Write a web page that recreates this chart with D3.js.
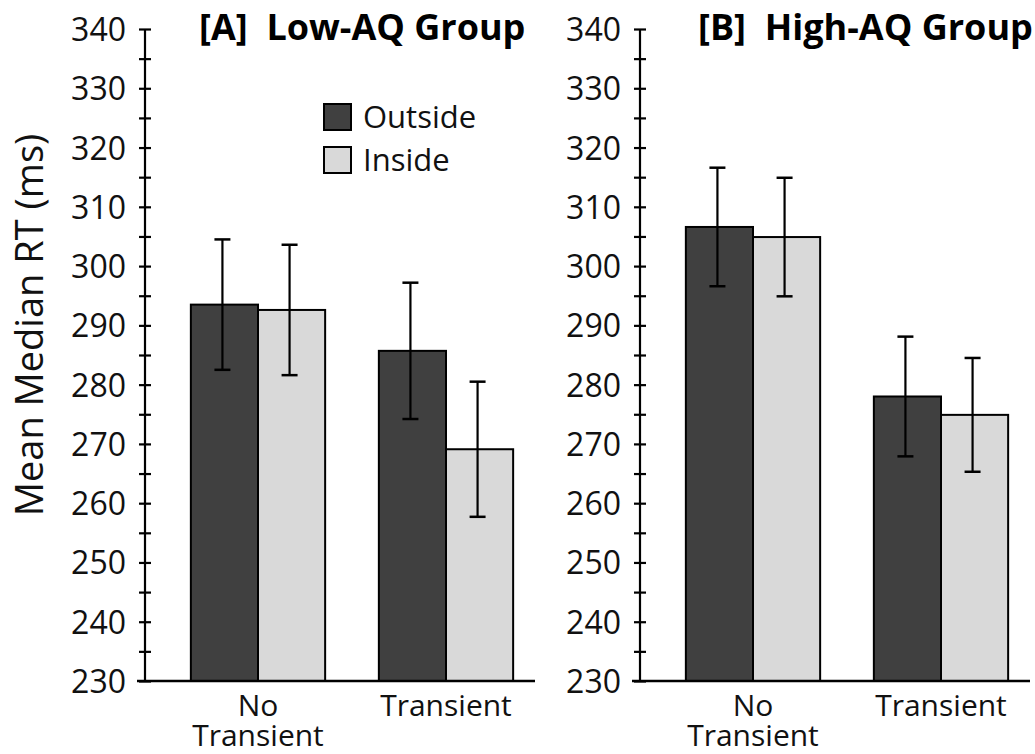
<!DOCTYPE html>
<html>
<head>
<meta charset="utf-8">
<script src="https://cdn.jsdelivr.net/npm/d3@7"></script>
<style>
  body { margin: 0; background: #fff; }
  svg { display: block; font-family: "Open Sans", "Noto Sans", sans-serif; }
</style>
</head>
<body>
<svg id="chart" width="1035" height="754"></svg>
<script>
// data
const conditions = ['No Transient', 'Transient'];
const series = ['Outside', 'Inside'];
const yTicks = d3.range(230, 341, 5);

const lowAQMeans = [293.5, 292.6, 285.7, 269.1];
const lowAQErr   = [11.0, 11.0, 11.5, 11.4];
const highAQMeans = [306.6, 304.9, 278.0, 274.9];
const highAQErr   = [10.0, 10.0, 10.1, 9.6];

const colors = { Outside: '#404040', Inside: '#d9d9d9' };

const svg = d3.select('#chart');

const y = d3.scaleLinear().domain([230, 340]).range([681, 29]);

function toRows(means, errs) {
  const rows = [];
  conditions.forEach((c, i) => {
    series.forEach((s, j) => {
      const k = i * series.length + j;
      rows.push({ cond: c, key: s, value: means[k], err: errs[k] });
    });
  });
  return rows;
}

function drawPanel(axisX, title, titleX, rows) {
  const g = svg.append('g');

  const x0 = d3.scaleBand().domain(conditions).range([axisX + 19, axisX + 395]);
  const x1 = d3.scaleBand().domain(series).range([0, x0.bandwidth()]).paddingOuter(0.4);

  // bars
  g.selectAll('rect.bar')
    .data(rows)
    .join('rect')
    .attr('class', 'bar')
    .attr('x', d => x0(d.cond) + x1(d.key))
    .attr('y', d => y(d.value))
    .attr('width', x1.bandwidth())
    .attr('height', d => y.range()[0] - y(d.value))
    .attr('fill', d => colors[d.key])
    .attr('stroke', '#000')
    .attr('stroke-width', 2);

  // error bars
  const eb = g.selectAll('g.err')
    .data(rows)
    .join('g')
    .attr('class', 'err')
    .attr('transform', d => `translate(${x0(d.cond) + x1(d.key) + x1.bandwidth() / 2 - 2},0)`);
  eb.append('line')
    .attr('y1', d => y(d.value + d.err))
    .attr('y2', d => y(d.value - d.err))
    .attr('stroke', '#000').attr('stroke-width', 2.2);
  eb.selectAll('line.cap')
    .data(d => [d.value + d.err, d.value - d.err])
    .join('line')
    .attr('class', 'cap')
    .attr('x1', -8).attr('x2', 8)
    .attr('y1', v => y(v)).attr('y2', v => y(v))
    .attr('stroke', '#000').attr('stroke-width', 2.5);

  // y axis
  const yAxis = d3.axisLeft(y)
    .tickValues(yTicks)
    .tickSize(6)
    .tickPadding(13)
    .tickFormat(d => d % 10 === 0 ? d : '');
  const ya = g.append('g')
    .attr('transform', `translate(${axisX},0)`)
    .call(yAxis);
  ya.select('.domain').attr('stroke', '#000').attr('stroke-width', 2.2).attr('d', `M0,${y.range()[0]}V${y.range()[1]}`);
  ya.selectAll('.tick line').attr('x1', -6).attr('x2', 6).attr('stroke', '#000').attr('stroke-width', 2.2);
  ya.selectAll('.tick text')
    .attr('font-size', 32)
    .attr('font-family', '"Open Sans", sans-serif')
    .attr('fill', '#111')
    .attr('dy', '0.36em');

  // x axis baseline
  g.append('line')
    .attr('x1', axisX - 8).attr('x2', axisX + 390)
    .attr('y1', y.range()[0]).attr('y2', y.range()[0])
    .attr('stroke', '#000').attr('stroke-width', 2.5);

  // category labels
  const xl = g.selectAll('text.cat')
    .data(conditions)
    .join('text')
    .attr('class', 'cat')
    .attr('x', d => x0(d) + x0.bandwidth() / 2)
    .attr('y', 716)
    .attr('text-anchor', 'middle')
    .attr('font-size', 30)
    .attr('fill', '#111');
  xl.each(function (d) {
    const words = d === 'No Transient' ? ['No', 'Transient'] : [d];
    d3.select(this).selectAll('tspan')
      .data(words)
      .join('tspan')
      .attr('x', x0(d) + x0.bandwidth() / 2)
      .attr('dy', (w, i) => i === 0 ? 0 : 30)
      .text(w => w);
  });

  // panel title
  g.append('text')
    .attr('x', titleX)
    .attr('y', 40)
    .attr('font-size', 36)
    .attr('font-weight', 'bold')
    .attr('fill', '#000')
    .text(title);

  return g;
}

const left = drawPanel(145, '[A]\u00a0\u00a0Low-AQ Group', 199, toRows(lowAQMeans, lowAQErr));
drawPanel(640, '[B]\u00a0\u00a0High-AQ Group', 698, toRows(highAQMeans, highAQErr));

// legend
const legend = left.append('g').attr('transform', 'translate(324,104)');
const li = legend.selectAll('g')
  .data(series)
  .join('g')
  .attr('transform', (d, i) => `translate(0,${i * 43})`);
li.append('rect')
  .attr('width', 27).attr('height', 26)
  .attr('fill', d => colors[d])
  .attr('stroke', '#000').attr('stroke-width', 2);
li.append('text')
  .attr('x', 39).attr('y', 24)
  .attr('font-size', 31)
  .attr('fill', '#111')
  .text(d => d);

// y axis title
svg.append('text')
  .attr('transform', 'translate(43,325) rotate(-90)')
  .attr('text-anchor', 'middle')
  .attr('font-size', 38)
  .attr('fill', '#111')
  .text('Mean Median RT (ms)');
</script>
</body>
</html>
